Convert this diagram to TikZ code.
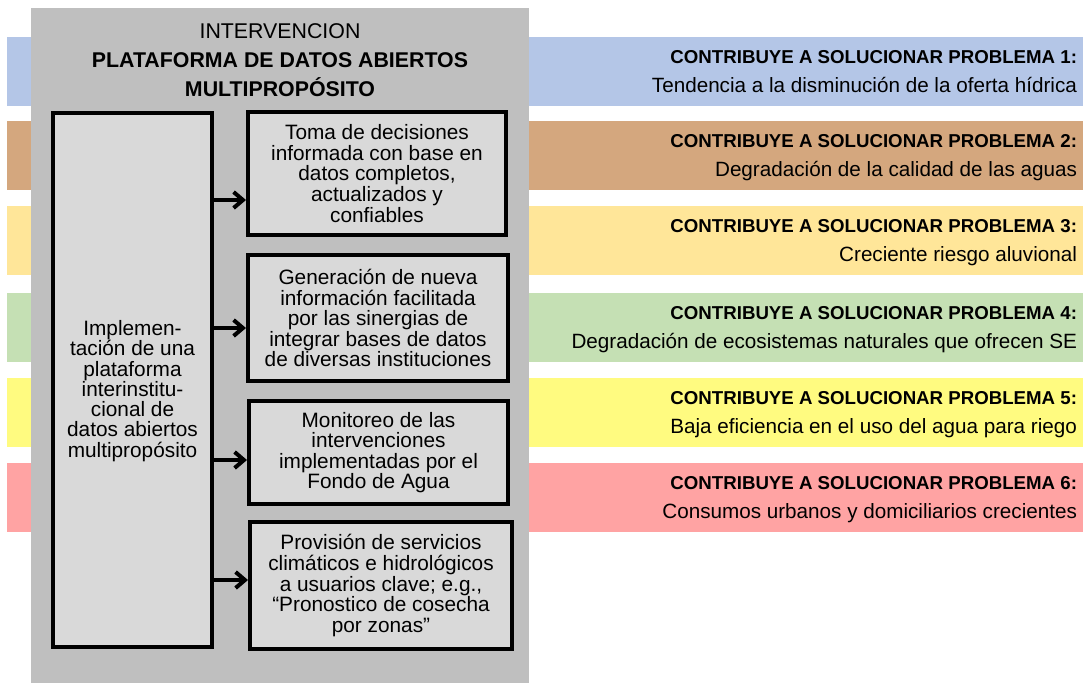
\documentclass[tikz,border=0pt]{standalone}
\usepackage{fontspec}
\setmainfont{Liberation Sans}
\usetikzlibrary{arrows.meta,calc}
\definecolor{panelgrey}{HTML}{BFBFBF}
\definecolor{boxgrey}{HTML}{D9D9D9}
\definecolor{bandblue}{HTML}{B4C6E7}
\definecolor{bandtan}{HTML}{D4A77E}
\definecolor{bandsand}{HTML}{FFE699}
\definecolor{bandgreen}{HTML}{C5E0B4}
\definecolor{bandyellow}{HTML}{FFFB80}
\definecolor{bandpink}{HTML}{FFA3A3}
\newcommand{\headline}{\fontsize{14}{21.75}\selectfont\bfseries}
\begin{document}
\begin{tikzpicture}[
  x = 0.75pt, y = -0.75pt,
  result/.style = {draw, line width = 3pt, fill = boxgrey, align = center, inner sep = 0pt, font = \fontsize{15.6}{15.4}\selectfont},
  boxtext/.style = {align = center, inner sep = 0pt, font = \fontsize{15.6}{15.2}\selectfont},
  band/.style = {minimum width = 807pt, minimum height = 51.75pt, inner sep = 0pt},
  problem/.style = {anchor = north east, inner sep = 0pt, align = right, font = \fontsize{15.5}{21.75}\selectfont},
  link/.style = {line width = 3pt, -{Straight Barb[length = 7pt, width = 12pt]}},
  ]
  \useasboundingbox (0,0) rectangle (1083,683);

  \node[band, fill = bandblue]   (p1) at (545,71.5)  {};
  \node[band, fill = bandtan]    (p2) at (545,155.5) {};
  \node[band, fill = bandsand]   (p3) at (545,240.5) {};
  \node[band, fill = bandgreen]  (p4) at (545,327.5) {};
  \node[band, fill = bandyellow] (p5) at (545,412.5) {};
  \node[band, fill = bandpink]   (p6) at (545,497.5) {};

  \node[problem] (t1) at ($(p1.north east)+(-6,13.9)$) {{\headline CONTRIBUYE A SOLUCIONAR PROBLEMA 1:}\\Tendencia a la disminución de la oferta hídrica};
  \node[problem] (t2) at ($(p2.north east)+(-6,13.9)$) {{\headline CONTRIBUYE A SOLUCIONAR PROBLEMA 2:}\\Degradación de la calidad de las aguas};
  \node[problem] (t3) at ($(p3.north east)+(-6,13.9)$) {{\headline CONTRIBUYE A SOLUCIONAR PROBLEMA 3:}\\Creciente riesgo aluvional};
  \node[problem] (t4) at ($(p4.north east)+(-6,13.9)$) {{\headline CONTRIBUYE A SOLUCIONAR PROBLEMA 4:}\\Degradación de ecosistemas naturales que ofrecen SE};
  \node[problem] (t5) at ($(p5.north east)+(-6,13.9)$) {{\headline CONTRIBUYE A SOLUCIONAR PROBLEMA 5:}\\Baja eficiencia en el uso del agua para riego};
  \node[problem] (t6) at ($(p6.north east)+(-6,13.9)$) {{\headline CONTRIBUYE A SOLUCIONAR PROBLEMA 6:}\\Consumos urbanos y domiciliarios crecientes};

  \fill[panelgrey] (31,8) rectangle (529,683);

  \node[anchor = north, inner sep = 0pt, align = center, font = \fontsize{16}{21.75}\selectfont] (title) at (280,23.5)
    {INTERVENCION\\\textbf{PLATAFORMA DE DATOS ABIERTOS}\\\textbf{MULTIPROPÓSITO}};

  \node[result, minimum width = 119.25pt, minimum height = 400.5pt] (impl) at (132.5,380) {};
  \node[boxtext] (impltext) at ($(impl.center)+(0,11)$)
    {Implemen-\\tación de una\\plataforma\\interinstitu-\\cional de\\datos abiertos\\multipropósito};

  \node[result, minimum width = 193.5pt, minimum height = 92.25pt] (b1) at (377,173.5)
    {Toma de decisiones\\informada con base en\\datos completos,\\actualizados y\\confiables};
  \node[result, minimum width = 195pt, minimum height = 94.5pt] (b2) at (378,318)
    {Generación de nueva\\información facilitada\\por las sinergias de\\integrar bases de datos\\de diversas instituciones};
  \node[result, minimum width = 194.25pt, minimum height = 77.25pt] (b3) at (378.5,452.5)
    {Monitoreo de las\\intervenciones\\implementadas por el\\Fondo de Agua};
  \node[result, minimum width = 196.5pt, minimum height = 95.25pt] (b4) at (381,585.5)
    {Provisión de servicios\\climáticos e hidrológicos\\a usuarios clave; e.g.,\\“Pronostico de cosecha\\por zonas”};

  \coordinate (a1) at ($(b1.west)+(0,26.5)$);
  \coordinate (a2) at ($(b2.west)+(0,10)$);
  \coordinate (a3) at ($(b3.west)+(0,7.5)$);
  \coordinate (a4) at ($(b4.west)+(0,-5.5)$);
  \draw[link] (impl.east |- a1) -- (a1);
  \draw[link] (impl.east |- a2) -- (a2);
  \draw[link] (impl.east |- a3) -- (a3);
  \draw[link] (impl.east |- a4) -- (a4);
\end{tikzpicture}
\end{document}
